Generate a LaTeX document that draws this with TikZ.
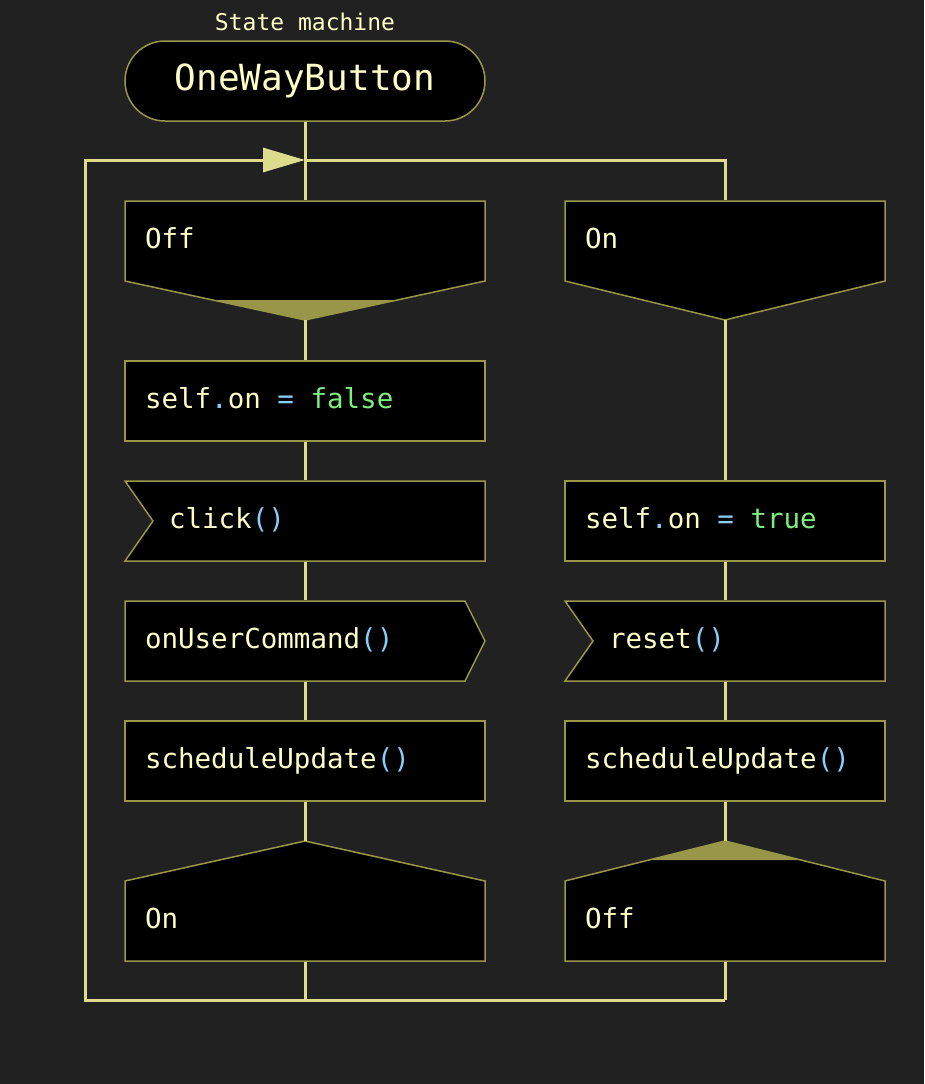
\documentclass[tikz,border=0pt]{standalone}
\usepackage{fontspec}
\setmonofont{DejaVu Sans Mono}
\usetikzlibrary{arrows.meta}

\definecolor{bg}{HTML}{212121}
\definecolor{edge}{HTML}{979649}
\definecolor{wire}{HTML}{DCDC8C}
\definecolor{ink}{HTML}{FFFFC8}
\definecolor{kw}{HTML}{87CEFA}
\definecolor{lit}{HTML}{7CF07C}
\newcommand{\kw}[1]{\textcolor{kw}{#1}}
\newcommand{\lit}[1]{\textcolor{lit}{#1}}
\newcommand{\gap}{\hspace*{0.602em}}

\tikzset{
  code/.style={text=ink,font=\ttfamily\fontsize{27.5}{32}\selectfont},
  stepbox/.style={code,fill=black,draw=edge,line width=1.5pt,minimum height=80pt,
    inner xsep=20pt,inner ysep=0pt,align=left,text height=20pt,text depth=5pt},
  lcol/.style={minimum width=360pt,text width=320pt},
  rcol/.style={minimum width=320pt,text width=280pt},
  shapetext/.style={stepbox,draw=none,fill=none},
  outline/.style={fill=black,draw=edge,line width=1.5pt,line join=miter},
  wire/.style={draw=wire,line width=3pt},
}

\begin{document}
\begin{tikzpicture}[x=1pt,y=-1pt]
        \fill[bg] (0,0) rectangle (924,1084);

        \node[text=ink,font=\ttfamily\fontsize{23}{26}\selectfont] (title) at (305,22) {State\gap machine};
        \node[code,font=\ttfamily\fontsize{36}{40}\selectfont,fill=black,draw=edge,line width=1.5pt,
          rounded corners=40pt,minimum width=360pt,minimum height=80pt] (machine) at (305,81) {OneWayButton};

        % left column
        \draw[outline] (125,201)-- (485,201)-- (485,281)-- (305,320)-- (125,281)-- cycle;
        \fill[edge] (213,300)-- (397,300)-- (305,320)-- cycle;
        \node[shapetext,lcol] (offA) at (305,241) {Off};
        \coordinate (offAtip) at (305,320);

        \node[stepbox,lcol] (setOff) at (305,401) {self\kw{.}on\gap\kw{=}\gap\lit{false}};

        \draw[outline] (125,481)-- (485,481)-- (485,561)-- (125,561)-- (153,521)-- cycle;
        \node[shapetext,lcol] (click) at (305,521) {\hspace*{24pt}click\kw{()}};

        \draw[outline] (125,601)-- (465,601)-- (485,641)-- (465,681)-- (125,681)-- cycle;
        \node[shapetext,lcol] (command) at (305,641) {onUserCommand\kw{()}};

        \node[stepbox,lcol] (schedA) at (305,761) {scheduleUpdate\kw{()}};

        \draw[outline] (125,881)-- (305,841)-- (485,881)-- (485,961)-- (125,961)-- cycle;
        \node[shapetext,lcol] (onA) at (305,921) {On};
        \coordinate (onAtip) at (305,841);

        % right column
        \draw[outline] (565,201)-- (885,201)-- (885,281)-- (725,320)-- (565,281)-- cycle;
        \node[shapetext,rcol] (onB) at (725,241) {On};
        \coordinate (onBtip) at (725,320);

        \node[stepbox,rcol] (setOn) at (725,521) {self\kw{.}on\gap\kw{=}\gap\lit{true}};

        \draw[outline] (565,601)-- (885,601)-- (885,681)-- (565,681)-- (593,641)-- cycle;
        \node[shapetext,rcol] (reset) at (725,641) {\hspace*{24pt}reset\kw{()}};

        \node[stepbox,rcol] (schedB) at (725,761) {scheduleUpdate\kw{()}};

        \draw[outline] (565,881)-- (725,841)-- (885,881)-- (885,961)-- (565,961)-- cycle;
        \fill[edge] (649,860)-- (725,841)-- (801,860)-- cycle;
        \node[shapetext,rcol] (offB) at (725,921) {Off};
        \coordinate (offBtip) at (725,841);

        % loop
        \coordinate (loopA) at (305,1000);
        \coordinate (loopB) at (725,1000);
        \coordinate (loopSW) at (85,1000);
        \coordinate (loopNW) at (85,160);
        \coordinate (entry) at (305,160);
        \coordinate (loopNE) at (725,160);

        \draw[wire] (machine.south)-- (offA.north);
        \draw[wire] (offAtip)-- (setOff.north);
        \draw[wire] (setOff.south)-- (click.north);
        \draw[wire] (click.south)-- (command.north);
        \draw[wire] (command.south)-- (schedA.north);
        \draw[wire] (schedA.south)-- (onAtip);
        \draw[wire] (onA.south)-- (loopA);

        \draw[wire] (onBtip)-- (setOn.north);
        \draw[wire] (setOn.south)-- (reset.north);
        \draw[wire] (reset.south)-- (schedB.north);
        \draw[wire] (schedB.south)-- (offBtip);
        \draw[wire] (offB.south)-- (loopB);

        \draw[wire,-{Triangle[length=42pt,width=24pt]}] (loopB)-- (loopSW)-- (loopNW)-- (entry);
        \draw[wire] (entry)-- (loopNE)-- (onB.north);
      \end{tikzpicture}
\end{document}
